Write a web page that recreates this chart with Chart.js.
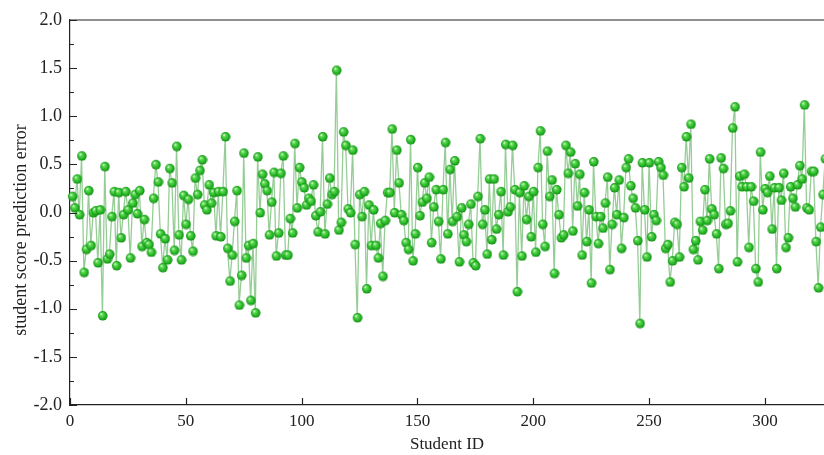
<!DOCTYPE html>
<html>
<head>
<meta charset="utf-8">
<script src="https://cdn.jsdelivr.net/npm/chart.js@4.4.1/dist/chart.umd.min.js"></script>
<style>
  html, body { margin: 0; padding: 0; background: #fff; }
  canvas { display: block; }
</style>
</head>
<body>
<canvas id="errChart" width="824" height="455"></canvas>
<script>
// prediction error per student, IDs 1..326 (last one sits on the right edge)
const errors = [
  0.17, 0.05, 0.35, -0.02, 0.59, -0.62, -0.38, 0.23, -0.34, 0.00, 0.02, -0.52, 0.03, -1.07, 0.48, -0.48,
  -0.43, -0.04, 0.22, -0.55, 0.21, -0.26, -0.02, 0.22, 0.03, -0.47, 0.10, 0.19, -0.01, 0.23, -0.35, -0.07,
  -0.31, -0.33, -0.41, 0.15, 0.50, 0.32, -0.22, -0.57, -0.27, -0.49, 0.46, 0.31, -0.39, 0.69, -0.23, -0.49,
  0.18, -0.12, 0.14, -0.24, -0.40, 0.36, 0.19, 0.44, 0.55, 0.08, 0.03, 0.29, 0.10, 0.21, -0.24, 0.22, -0.25, 0.22,
  0.79, -0.37, -0.71, -0.44, -0.09, 0.23, -0.96, -0.65, 0.62, -0.47, -0.34, -0.91, -0.32, -1.04, 0.58, 0.00,
  0.40, 0.30, 0.23, -0.23, 0.11, 0.42, -0.45, -0.21, 0.41, 0.59, -0.44, -0.44, -0.06, -0.21, 0.72, 0.05,
  0.47, 0.32, 0.26, 0.08, 0.15, 0.12, 0.29, -0.03, -0.20, 0.01, 0.79, -0.22, 0.09, 0.36, 0.19, 0.22, 1.48,
  -0.18, -0.10, 0.84, 0.70, 0.04, 0.00, 0.65, -0.33, -1.09, 0.19, -0.04, 0.22, -0.79, 0.08, -0.34, 0.03,
  -0.34, -0.47, -0.11, -0.66, -0.08, 0.21, 0.21, 0.87, 0.00, 0.65, 0.31, -0.02, -0.08, -0.31, -0.38, 0.76,
  -0.50, -0.22, 0.47, -0.03, 0.11, 0.31, 0.15, 0.37, -0.31, 0.06, 0.24, -0.09, -0.48, 0.24, 0.73, -0.22,
  0.45, -0.09, 0.54, -0.04, -0.51, 0.05, -0.23, -0.30, -0.12, 0.09, -0.52, -0.55, 0.17, 0.77, -0.12, 0.03, -0.43,
  0.35, -0.28, 0.35, -0.17, -0.02, 0.22, -0.44, 0.71, 0.01, 0.06, 0.70, 0.24, -0.82, 0.21, -0.45, 0.28, -0.07,
  0.17, -0.25, 0.22, -0.41, 0.47, 0.85, -0.12, -0.35, 0.64, 0.17, 0.34, -0.63, 0.24, -0.02, -0.26, -0.23,
  0.70, 0.41, 0.63, -0.19, 0.51, 0.07, 0.40, -0.44, 0.21, -0.30, 0.03, -0.73, 0.53, -0.04, -0.32, -0.04, -0.16, 0.10,
  0.37, -0.59, -0.12, 0.26, -0.02, 0.34, -0.37, -0.05, 0.47, 0.56, 0.28, 0.15, 0.05, -0.29, -1.15, 0.52,
  0.03, -0.46, 0.52, -0.25, -0.02, -0.08, 0.53, 0.47, 0.39, -0.37, -0.33, -0.72, -0.50, -0.10, -0.12,
  -0.46, 0.47, 0.27, 0.79, 0.36, 0.92, -0.38, -0.29, -0.49, -0.09, -0.18, 0.24, -0.08, 0.56, 0.04, -0.02,
  -0.22, -0.58, 0.57, 0.46, -0.12, -0.11, 0.02, 0.88, 1.10, -0.51, 0.38, 0.27, 0.40, 0.27, -0.36, 0.27, 0.12, -0.58,
  -0.72, 0.63, 0.03, 0.25, 0.21, 0.38, -0.17, 0.26, -0.58, 0.26, 0.13, 0.41, -0.36, -0.26, 0.27, 0.15,
  0.06, 0.29, 0.49, 0.35, 1.12, 0.05, 0.03, 0.43, 0.43, -0.30, -0.78, -0.15, 0.19, 0.56
]
const studentIds = errors.map((e, i) => i + 1)
const xTicks = [0, 50, 100, 150, 200, 250, 300]
const yTicks = [-2.0, -1.5, -1.0, -0.5, 0.0, 0.5, 1.0, 1.5, 2.0]
const yTitle = 'student score prediction error'

const serif = "'Liberation Serif', 'Times New Roman', serif"

// little shaded green ball used as the marker
function makeBall(r) {
  const c = document.createElement('canvas')
  c.width = c.height = r * 2 + 2
  const g = c.getContext('2d')
  const cx = r + 1, cy = r + 1
  const grad = g.createRadialGradient(cx - r * 0.35, cy - r * 0.4, 0.3, cx, cy, r)
  grad.addColorStop(0, '#e6fbe0')
  grad.addColorStop(0.25, '#5fdc55')
  grad.addColorStop(0.75, '#22b022')
  grad.addColorStop(1, '#138a13')
  g.fillStyle = grad
  g.beginPath()
  g.arc(cx, cy, r, 0, Math.PI * 2)
  g.fill()
  return c
}
const ball = makeBall(4.8)

// inward tick marks, top frame line and the y title (sits a bit below centre in the original)
const frameTicks = {
  id: 'frameTicks',
  afterDraw(chart) {
    const { ctx, chartArea: { top, bottom, left, right }, scales: { x, y } } = chart
    ctx.save()
    ctx.strokeStyle = '#222'
    ctx.lineWidth = 1.2
    ctx.beginPath()
    ctx.moveTo(left, top)
    ctx.lineTo(right, top)
    for (let v = -2; v <= 2.001; v += 0.25) {
      const py = Math.round(y.getPixelForValue(v)) + 0.5
      const major = Math.abs(v * 2 - Math.round(v * 2)) < 1e-6
      ctx.moveTo(left, py)
      ctx.lineTo(left + (major ? 7 : 4), py)
    }
    xTicks.forEach(v => {
      const px = Math.round(x.getPixelForValue(v)) + 0.5
      ctx.moveTo(px, bottom)
      ctx.lineTo(px, bottom - 7)
    })
    ctx.stroke()

    ctx.translate(26, 230)
    ctx.rotate(-Math.PI / 2)
    ctx.fillStyle = '#222'
    ctx.font = '18px ' + serif
    ctx.textAlign = 'center'
    ctx.textBaseline = 'alphabetic'
    ctx.fillText(yTitle, 0, 0)
    ctx.restore()
  }
}

new Chart(document.getElementById('errChart'), {
  type: 'line',
  data: {
    labels: studentIds,
    datasets: [{
      data: errors.map((e, i) => ({ x: studentIds[i], y: e })),
      borderColor: 'rgb(150, 205, 150)',
      borderWidth: 1.3,
      pointStyle: ball,
      pointRadius: 4.8,
      tension: 0,
      clip: false
    }]
  },
  options: {
    responsive: false,
    animation: false,
    layout: { autoPadding: false, padding: { top: 20, right: 0, left: 0, bottom: 0 } },
    plugins: { legend: { display: false }, tooltip: { enabled: false } },
    scales: {
      x: {
        type: 'linear',
        min: 0,
        max: 325.5,
        afterBuildTicks: s => { s.ticks = xTicks.map(v => ({ value: v })) },
        afterFit: s => { s.height = 50 },
        grid: { display: false, drawTicks: false },
        border: { display: true, color: '#222', width: 1.2 },
        ticks: {
          color: '#222',
          padding: 6,
          maxRotation: 0,
          font: { family: serif, size: 17 },
          callback: v => v
        },
        title: {
          display: true,
          text: 'Student ID',
          color: '#222',
          padding: { top: 2, bottom: 0 },
          font: { family: serif, size: 17 }
        }
      },
      y: {
        min: -2,
        max: 2,
        afterBuildTicks: s => { s.ticks = yTicks.map(v => ({ value: v })) },
        afterFit: s => { s.width = 70 },
        grid: { display: false, drawTicks: false },
        border: { display: true, color: '#222', width: 1.2 },
        ticks: {
          color: '#222',
          padding: 8,
          font: { family: serif, size: 18 },
          callback: v => v.toFixed(1)
        },
        title: { display: false }
      }
    }
  },
  plugins: [frameTicks]
})
</script>
</body>
</html>
